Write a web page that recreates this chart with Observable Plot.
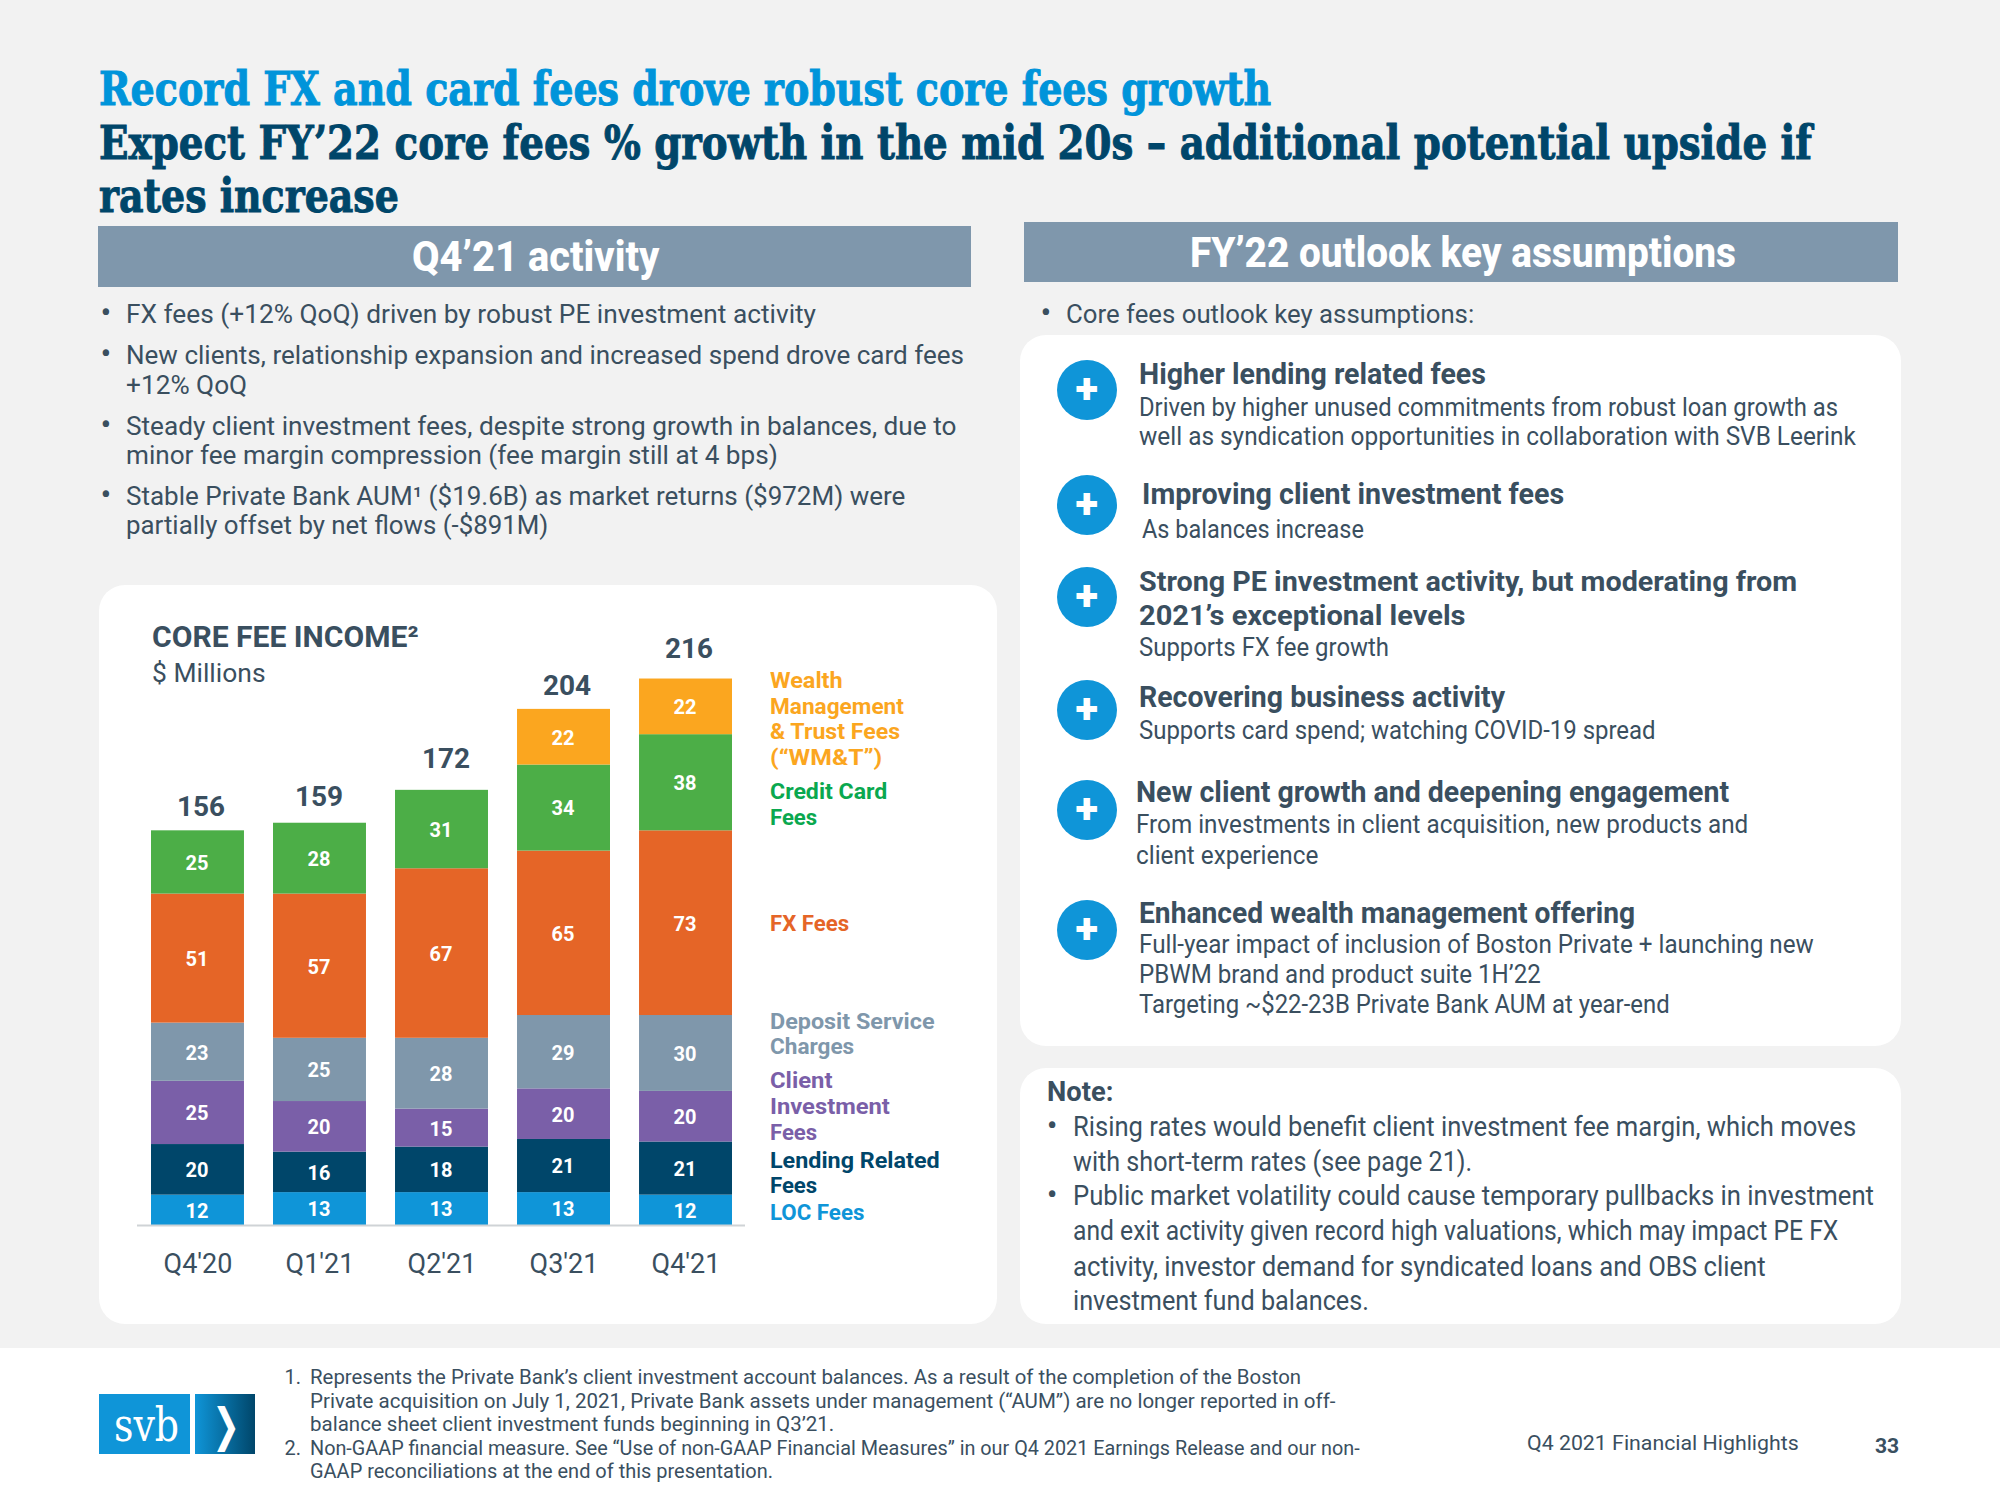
<!DOCTYPE html>
<html><head><meta charset="utf-8">
<style>
html,body{margin:0;padding:0;width:2000px;height:1500px;background:#f2f2f2;overflow:hidden}
#page{position:relative;width:2000px;height:1500px;font-family:Roboto,sans-serif}
.t{position:absolute;white-space:nowrap;line-height:0;transform-origin:0 0}
.box{position:absolute}
.plus{position:absolute;background:#0f95d8;border-radius:50%;color:#fff;text-align:center;font-weight:900}
svg.chart{position:absolute;left:100px;top:585px;overflow:visible}
</style>
<script src="https://cdn.jsdelivr.net/npm/d3@7"></script>
<script src="https://cdn.jsdelivr.net/npm/@observablehq/plot@0.6"></script>
</head><body><div id="page"></div>
<script>
// ---- chart data ----
const quarters = ["Q4'20","Q1'21","Q2'21","Q3'21","Q4'21"];
const seriesNames = ["LOC Fees","Lending Related Fees","Client Investment Fees","Deposit Service Charges","FX Fees","Credit Card Fees","WM&T"];
const locFees = [12,13,13,13,12];
const lendingFees = [20,16,18,21,21];
const clientFees = [25,20,15,20,20];
const depositCharges = [23,25,28,29,30];
const fxFees = [51,57,67,65,73];
const cardFees = [25,28,31,34,38];
const wmtFees = [null,null,null,22,22];
const totals = [156,159,172,204,216];
const seriesColors = ["#0f95d8","#00466a","#7a5fa8","#7f97ab","#e56527","#4cae47","#fba61f"];

const seriesValues = [locFees,lendingFees,clientFees,depositCharges,fxFees,cardFees,wmtFees];
const rows = seriesNames.flatMap((s,i)=>quarters.map((q,j)=>({q,s,v:seriesValues[i][j]}))).filter(d=>d.v!=null);
const totalRows = quarters.map((q,j)=>({q,v:totals[j]}));

// ---- page furniture ----
const K = 2000/1568, page = document.getElementById("page");
const DARK="#3a4f5f", NAVY="#00466a", BLUE="#0094da", BODY="Roboto, sans-serif", SERIF="'DejaVu Serif', serif";
function box(x0,y0,x1,y1,bg,r){const d=document.createElement("div");d.className="box";
  d.style.cssText=`left:${x0*K}px;top:${y0*K}px;width:${(x1-x0)*K}px;height:${(y1-y0)*K}px;background:${bg};border-radius:${r||0}px`;
  page.appendChild(d);return d;}
const cv=document.createElement("canvas").getContext("2d");
function t(text,x0,x1,base,size,weight,color,font){
  const d=document.createElement("div");d.className="t";d.textContent=text;
  font=font||BODY;weight=weight||400;color=color||DARK;
  cv.font=`${weight} ${size}px ${font}`;const m=cv.measureText(text);
  const mid=(m.fontBoundingBoxAscent-m.fontBoundingBoxDescent)/2;
  d.style.cssText=`left:${x0*K}px;top:${base*K-mid}px;font:${weight} ${size}px ${font};line-height:0;color:${color}`;
  page.appendChild(d);
  if(x1!=null){const w=d.getBoundingClientRect().width;d.style.transform=`scaleX(${((x1-x0)*K)/w})`;}
  return d;
}
function plus(cy){const d=document.createElement("div");d.className="plus";const r=30;
  d.style.cssText=`left:${852*K-r}px;top:${cy*K-r}px;width:${2*r}px;height:${2*r}px;line-height:${2*r-2}px;font-size:42px`;
  d.textContent="+";page.appendChild(d);}

// white footer, cards, header bars
box(0,1057,1568,1176,"#fff");
box(78,459,782,1038,"#fff",26);
box(800,263,1490,820,"#fff",26);
box(800,837,1490,1038,"#fff",26);
box(77,177,761,225,"#7f97ac");
box(803,174,1488,221,"#7f97ac");

// titles
const TS=46;
const heavy=(el,c)=>{el.style.webkitTextStroke=`1px ${c}`;return el;};
heavy(t("Record FX and card fees drove robust core fees growth",78,997,82.5,TS,700,BLUE,SERIF),BLUE);
heavy(t("Expect FY’22 core fees % growth in the mid 20s – additional potential upside if",78,1421,124.5,TS,700,NAVY,SERIF),NAVY);
heavy(t("rates increase",78,313,166.5,TS,700,NAVY,SERIF),NAVY);
t("Q4’21 activity",323,517,213,42,800,"#fff");
t("FY’22 outlook key assumptions",933,1361,210,42,800,"#fff");

// left bullets
const BS=26,NS=27,DOT=32;
[253,285,341,396].forEach(y=>t("•",78.7,null,y,DOT));
t("FX fees (+12% QoQ) driven by robust PE investment activity",99,640,253,BS);
t("New clients, relationship expansion and increased spend drove card fees",99,756,285,BS);
t("+12% QoQ",99,194,309,BS);
t("Steady client investment fees, despite strong growth in balances, due to",99,750,341,BS);
t("minor fee margin compression (fee margin still at 4 bps)",99,610,364,BS);
t("Stable Private Bank AUM¹ ($19.6B) as market returns ($972M) were",99,710,396,BS);
t("partially offset by net flows (-$891M)",99,430,419,BS);

// right column
t("•",815.7,null,253,DOT);
t("Core fees outlook key assumptions:",836,1156,253,BS);
[306,396,468,557,635,729].forEach(plus);
const HS=29,SS=25.5;
t("Higher lending related fees",893,1165,301,HS,700);
t("Driven by higher unused commitments from robust loan growth as",893,1441,326,SS);
t("well as syndication opportunities in collaboration with SVB Leerink",893,1455,349,SS);
t("Improving client investment fees",895,1226,395,HS,700);
t("As balances increase",895,1069,422,SS);
t("Strong PE investment activity, but moderating from",893,1409,464,28,700);
t("2021’s exceptional levels",893,1149,490,28,700);
t("Supports FX fee growth",893,1089,514,SS);
t("Recovering business activity",893,1180,554,HS,700);
t("Supports card spend; watching COVID-19 spread",893,1298,579,SS);
t("New client growth and deepening engagement",891,1356,629,HS,700);
t("From investments in client acquisition, new products and",891,1371,653,SS);
t("client experience",891,1034,677,SS);
t("Enhanced wealth management offering",893,1282,724,HS,700);
t("Full-year impact of inclusion of Boston Private + launching new",893,1422,747,SS);
t("PBWM brand and product suite 1H’22",893,1208,771,SS);
t("Targeting ~$22-23B Private Bank AUM at year-end",893,1309,794,SS);

// note
t("Note:",821,873,863,NS,700);
t("•",820.7,null,891,DOT);t("•",820.7,null,945,DOT);
t("Rising rates would benefit client investment fee margin, which moves",841,1455,891,NS);
t("with short-term rates (see page 21).",841,1154,918,NS);
t("Public market volatility could cause temporary pullbacks in investment",841,1469,945,NS);
t("and exit activity given record high valuations, which may impact PE FX",841,1441,972,NS);
t("activity, investor demand for syndicated loans and OBS client",841,1384,1000,NS);
t("investment fund balances.",841,1073,1027,NS);

// footer
const FS=20;
t("1.",223,null,1085,FS);t("2.",223,null,1141,FS);
t("Represents the Private Bank’s client investment account balances. As a result of the completion of the Boston",243,1020,1085,FS);
t("Private acquisition on July 1, 2021, Private Bank assets under management (“AUM”) are no longer reported in off-",243,1047,1104,FS);
t("balance sheet client investment funds beginning in Q3’21.",243,654,1122,FS);
t("Non-GAAP financial measure. See “Use of non-GAAP Financial Measures” in our Q4 2021 Earnings Release and our non-",243,1066,1141,FS);
t("GAAP reconciliations at the end of this presentation.",243,606,1159,FS);
t("Q4 2021 Financial Highlights",1197,1410,1137,FS);
t("33",1470,1489,1139,FS,700);

// logo
box(78,1093,149,1140,"#0f95d8");
const lg=box(153,1093,200,1140,"#0f95d8");lg.style.background="linear-gradient(90deg,#0f95d8,#00466a)";
t("svb",89,140,1130,46,400,"#fff","'DejaVu Serif', serif");
t("❯",166,188,1130,46,700,"#fff","'DejaVu Sans', sans-serif");

// chart heading + legend
t("CORE FEE INCOME²",119,328,508,30,700);
t("$ Millions",119,208,535,26);
const LS=22;
const lg2=(s,x1,y,c)=>t(s,604,x1,y,LS,700,c);
lg2("Wealth",661,540,"#fba61f");lg2("Management",709,560,"#fba61f");lg2("& Trust Fees",706,580,"#fba61f");lg2("(“WM&T”)",692,600,"#fba61f");
lg2("Credit Card",696,627,"#0aa84f");lg2("Fees",641,647,"#0aa84f");
lg2("FX Fees",666,730,"#e56527");
lg2("Deposit Service",733,807,"#7f97ab");lg2("Charges",670,827,"#7f97ab");
lg2("Client",653,853,"#7a5fa8");lg2("Investment",698,874,"#7a5fa8");lg2("Fees",641,894,"#7a5fa8");
lg2("Lending Related",737,916,"#00466a");lg2("Fees",641,936,"#00466a");
lg2("LOC Fees",678,957,"#0f95d8");

// ---- the chart ----
const totalNudges = [[3,-23.5],[-1,-26],[4,-31],[3,-23.5],[3,-30]];
const chart = Plot.plot({
  width:900, height:740,
  marginTop:7.5, marginBottom:100, marginLeft:37, marginRight:255,
  style:{background:"transparent",fontFamily:"Roboto, sans-serif",overflow:"visible"},
  x:{domain:quarters, range:[51,632], paddingInner:0.238, paddingOuter:0, round:false, axis:null},
  y:{domain:[0,250], axis:null},
  color:{domain:seriesNames, range:seriesColors},
  marks:[
    Plot.barY(rows,Plot.stackY({x:"q",y:"v",fill:"s",order:seriesNames})),
    Plot.ruleY([0],{stroke:"#cfd3d6",strokeWidth:2}),
    Plot.text(rows,Plot.stackY({x:"q",y:"v",z:"s",order:seriesNames,text:"v",fill:"#fff",fontSize:20,fontWeight:700,dx:-1,dy:1})),
    ...totalRows.map((d,i)=>Plot.text([d],{x:"q",y:"v",text:"v",dx:totalNudges[i][0],dy:totalNudges[i][1],fill:DARK,fontSize:28,fontWeight:700})),
    Plot.axisX({tickSize:0,tickPadding:28,fontSize:27,label:null,fill:DARK})
  ]
});
chart.classList.add("chart");
page.appendChild(chart);
</script></body></html>
